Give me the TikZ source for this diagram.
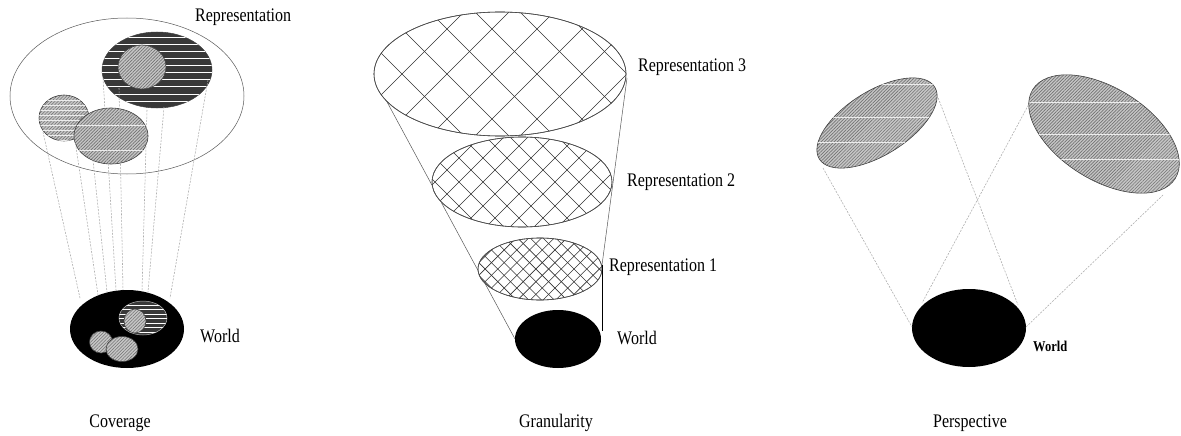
\documentclass[tikz,border=0pt]{standalone}
\usepackage{fontspec}
\setmainfont{Liberation Serif}
\usetikzlibrary{shapes.geometric,patterns.meta}
\newcommand\tallt[1]{\scalebox{1}[1.2]{#1}}
\newcommand\gridfill[5]{% cx, cy, rx, ry, step
  \begin{scope}
    \clip (#1,#2) ellipse [x radius=#3pt, y radius=#4pt];
    \pgfmathsetmacro\gfA{-(#3+#4+#5)}
    \pgfmathsetmacro\gfB{-(#3+#4+#5)+#5}
    \pgfmathsetmacro\gfC{#3+#4+#5}
    \foreach \c in {\gfA,\gfB,...,\gfC} {
      \draw[gridline] ({#1+\c-#4-5},{#2-#4-5}) -- ({#1+\c+#4+5},{#2+#4+5});
      \draw[gridline] ({#1+\c-#4-5},{#2+#4+5}) -- ({#1+\c+#4+5},{#2-#4-5});
    }
  \end{scope}}
\begin{document}
\begin{tikzpicture}[x=1pt,y=-1pt,
  ell/.style={ellipse, inner sep=0pt, draw=gray!70!black, line width=0.5pt, fill=white},
  hatchgray/.style={ellipse, inner sep=0pt, draw=gray!50!black, line width=0.6pt,
     preaction={fill=gray!45},
     pattern={Lines[angle=45,distance=2.3pt,line width=0.65pt]}, pattern color=black!55},
  darkfill/.style={ellipse, inner sep=0pt, draw=gray!50!black, line width=0.5pt, fill=black!78},
  gridell/.style={ellipse, inner sep=0pt, draw=gray!60!black, line width=0.6pt, fill=white},
  gridline/.style={black!80, line width=0.6pt},
  world/.style={ellipse, inner sep=0pt, fill=black},
  stripe/.style={white, line width=#1},
  dline/.style={gray!65, line width=0.55pt, dash pattern=on 2pt off 1.3pt},
  sline/.style={gray!70!black, line width=0.5pt},
  lbl/.style={inner sep=0pt, font=\fontsize{16}{16}\selectfont},
  blbl/.style={inner sep=0pt, font=\fontsize{12.5}{12.5}\selectfont\bfseries}
]
\fill[white] (0,0) rectangle (1181,436);
\useasboundingbox (0,0) rectangle (1181,436);

%% ---------------- Coverage ----------------
\node[ell, minimum width=234pt, minimum height=156pt] (rep) at (127,96) {};
\node[darkfill, minimum width=110pt, minimum height=76pt] (dk) at (157,70) {};
\begin{scope}
  \clip (157,70) ellipse [x radius=55pt, y radius=38pt];
  \foreach \y in {38,45,...,108} { \draw[stripe=1pt] (100,\y) -- (215,\y); }
\end{scope}
\node[hatchgray, minimum width=48pt, minimum height=44pt] (inr) at (142,67) {};
\node[hatchgray, minimum width=50pt, minimum height=46pt] (cl) at (64,118) {};
\begin{scope}
  \clip (64,118) ellipse [x radius=25pt, y radius=23pt];
  \foreach \y in {100,105,...,140} { \draw[white!85!gray, line width=0.8pt] (38,\y) -- (90,\y); }
\end{scope}
\node[hatchgray, minimum width=74pt, minimum height=56pt] (cm) at (111,136) {};
\begin{scope}
  \clip (111,136) ellipse [x radius=37pt, y radius=28pt];
  \foreach \y in {125,150} { \draw[white!85!gray, line width=0.7pt] (72,\y) -- (150,\y); }
\end{scope}
\node[lbl, anchor=west] (replbl) at (195,17) {\tallt{Representation}};

\node[world, minimum width=114pt, minimum height=78pt] (w1) at (127,329) {};
\node[darkfill, draw=gray!60, minimum width=48pt, minimum height=34pt] (wdk) at (143,318) {};
\begin{scope}
  \clip (143,318) ellipse [x radius=24pt, y radius=17pt];
  \foreach \y in {305,309.5,...,335} { \draw[stripe=0.8pt] (118,\y) -- (168,\y); }
\end{scope}
\node[hatchgray, minimum width=22pt, minimum height=24pt] (winr) at (135,321) {};
\node[hatchgray, minimum width=23pt, minimum height=22pt] (wcl) at (101,342) {};
\node[hatchgray, minimum width=32pt, minimum height=25pt] (wcm) at (122,349) {};
\node[lbl, anchor=west] (w1lbl) at (200,336) {\tallt{World}};
\node[lbl] (cov) at (120,423) {\tallt{Coverage}};

\coordinate (t1) at (43,132);  \coordinate (b1) at (80,298);
\coordinate (t2) at (75,140);  \coordinate (b2) at (98,295);
\coordinate (t3) at (93,160);  \coordinate (b3) at (107,292);
\coordinate (t4) at (103,78);  \coordinate (b4) at (116,290);
\coordinate (t5) at (119,88);  \coordinate (b5) at (123,290);
\coordinate (t6) at (147,110); \coordinate (b6) at (142,291);
\coordinate (t7) at (164,107); \coordinate (b7) at (148,292);
\coordinate (t8) at (208,80);  \coordinate (b8) at (170,298);
\foreach \i in {1,...,8} { \draw[dline] (t\i) -- (b\i); }

%% ---------------- Granularity ----------------
\coordinate (gl1) at (386,100); \coordinate (gl2) at (515,339);
\coordinate (gr1) at (627,78);  \coordinate (gr2) at (602,265); \coordinate (gr3) at (602,331);
\draw[sline] (gl1) -- (gl2);
\draw[sline] (gr1) -- (gr2);
\node[gridell, minimum width=252pt, minimum height=124pt] (r3) at (500,74) {};
\gridfill{500}{74}{126}{62}{45}
\node[gridell, fill=none, minimum width=252pt, minimum height=124pt] (r3o) at (500,74) {};
\node[gridell, minimum width=180pt, minimum height=90pt] (r2) at (522,182) {};
\gridfill{522}{182}{90}{45}{24}
\node[gridell, fill=none, minimum width=180pt, minimum height=90pt] (r2o) at (522,182) {};
\node[gridell, minimum width=124pt, minimum height=62pt] (r1) at (540,269) {};
\gridfill{540}{269}{62}{31}{12.7}
\node[gridell, fill=none, minimum width=124pt, minimum height=62pt] (r1o) at (540,269) {};
\node[world, minimum width=86pt, minimum height=58pt] (wg) at (558,339) {};
\draw[black, line width=0.8pt] (gr2) -- (gr3);
\node[lbl, anchor=west] (r3lbl) at (638,67) {\tallt{Representation 3}};
\node[lbl, anchor=west] (r2lbl) at (627,182) {\tallt{Representation 2}};
\node[lbl, anchor=west] (r1lbl) at (609,267) {\tallt{Representation 1}};
\node[lbl, anchor=west] (wglbl) at (617,338) {\tallt{World}};
\node[lbl] (gran) at (556,423) {\tallt{Granularity}};

%% ---------------- Perspective ----------------
\node[hatchgray, rotate=32, minimum width=136pt, minimum height=64pt] (pl) at (877,123) {};
\begin{scope}
  \clip[rotate around={32:(877,123)}] (877,123) ellipse [x radius=68pt, y radius=32pt];
  \foreach \y in {84,117,142} { \draw[white!85!gray, line width=0.8pt] (810,\y) -- (945,\y); }
\end{scope}
\node[hatchgray, rotate=-32, minimum width=168pt, minimum height=92pt] (pr) at (1104,134) {};
\begin{scope}
  \clip[rotate around={-32:(1104,134)}] (1104,134) ellipse [x radius=84pt, y radius=46pt];
  \foreach \y in {102,134,159} { \draw[white!85!gray, line width=0.8pt] (1025,\y) -- (1185,\y); }
\end{scope}
\node[world, minimum width=114pt, minimum height=78pt] (wp) at (969,328) {};
\coordinate (p1a) at (823,168);  \coordinate (p1b) at (912,327);
\coordinate (p2a) at (937,95);   \coordinate (p2b) at (1018,305);
\coordinate (p3a) at (1030,102); \coordinate (p3b) at (922,303);
\coordinate (p4a) at (1163,195); \coordinate (p4b) at (1025,328);
\draw[dline] (p1a) -- (p1b);
\draw[dline] (p2a) -- (p2b);
\draw[dline] (p3a) -- (p3b);
\draw[dline] (p4a) -- (p4b);
\node[blbl, anchor=west] (wplbl) at (1033,346) {\tallt{World}};
\node[lbl] (persp) at (970,423) {\tallt{Perspective}};
\end{tikzpicture}
\end{document}
